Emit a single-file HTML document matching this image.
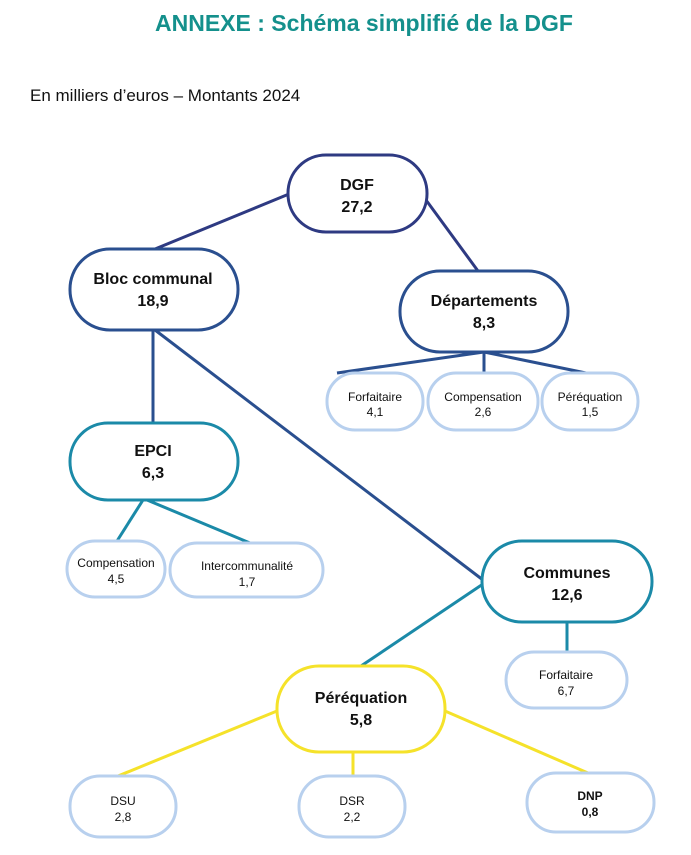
<!DOCTYPE html>
<html><head><meta charset="utf-8"><style>
html,body{margin:0;padding:0;background:#fff;}
svg{display:block;}
text{font-family:"Liberation Sans",sans-serif;text-anchor:middle;fill:#111;}
.b{font-weight:bold;font-size:16px;}
.s{font-size:12px;}
</style></head><body>
<svg width="691" height="855" viewBox="0 0 691 855" xmlns="http://www.w3.org/2000/svg">
<text x="364" y="31" style="font-weight:bold;font-size:23px;fill:#14908c">ANNEXE : Schéma simplifié de la DGF</text>
<text x="30" y="101" style="text-anchor:start;font-size:17px">En milliers d’euros – Montants 2024</text>

<g stroke-width="3" fill="none">
<line x1="289" y1="194" x2="155" y2="249" stroke="#2e3a82"/>
<line x1="426" y1="200" x2="478" y2="271" stroke="#2e3a82"/>
<line x1="153" y1="330" x2="153" y2="423" stroke="#2a4f8f"/>
<line x1="155" y1="330" x2="483" y2="580" stroke="#2a4f8f"/>
<line x1="484" y1="352" x2="337" y2="373" stroke="#2a4f8f"/>
<line x1="484" y1="352" x2="484" y2="373" stroke="#2a4f8f"/>
<line x1="484" y1="352" x2="586" y2="373" stroke="#2a4f8f"/>
<line x1="143" y1="500" x2="117" y2="541" stroke="#1b8aa8"/>
<line x1="147" y1="500" x2="250" y2="543" stroke="#1b8aa8"/>
<line x1="483" y1="584" x2="361" y2="666" stroke="#1b8aa8"/>
<line x1="567" y1="622" x2="567" y2="652" stroke="#1b8aa8"/>
<line x1="277" y1="711" x2="118" y2="776" stroke="#f5e22a"/>
<line x1="353" y1="752" x2="353" y2="776" stroke="#f5e22a"/>
<line x1="445" y1="711" x2="588" y2="773" stroke="#f5e22a"/>
</g>

<g fill="#fff" stroke-width="3">
<rect x="288" y="155" width="139" height="77" rx="38" stroke="#2e3a82"/>
<rect x="70" y="249" width="168" height="81" rx="40" stroke="#2a4f8f"/>
<rect x="400" y="271" width="168" height="81" rx="40" stroke="#2a4f8f"/>
<rect x="70" y="423" width="168" height="77" rx="38" stroke="#1b8aa8"/>
<rect x="482" y="541" width="170" height="81" rx="40" stroke="#1b8aa8"/>
<rect x="277" y="666" width="168" height="86" rx="42" stroke="#f5e22a"/>
</g>
<g fill="#fff" stroke="#b8d0ee" stroke-width="3">
<rect x="327" y="373" width="96" height="57" rx="28"/>
<rect x="428" y="373" width="110" height="57" rx="28"/>
<rect x="542" y="373" width="96" height="57" rx="28"/>
<rect x="67" y="541" width="98" height="56" rx="28"/>
<rect x="170" y="543" width="153" height="54" rx="27"/>
<rect x="506" y="652" width="121" height="56" rx="28"/>
<rect x="70" y="776" width="106" height="61" rx="30"/>
<rect x="299" y="776" width="106" height="61" rx="30"/>
<rect x="527" y="773" width="127" height="59" rx="29"/>
</g>

<text class="b" x="357" y="190">DGF</text><text class="b" x="357" y="212">27,2</text>
<text class="b" x="153" y="284">Bloc communal</text><text class="b" x="153" y="306">18,9</text>
<text class="b" x="484" y="306">Départements</text><text class="b" x="484" y="328">8,3</text>
<text class="b" x="153" y="456">EPCI</text><text class="b" x="153" y="478">6,3</text>
<text class="b" x="567" y="578">Communes</text><text class="b" x="567" y="600">12,6</text>
<text class="b" x="361" y="703">Péréquation</text><text class="b" x="361" y="725">5,8</text>

<text class="s" x="375" y="401">Forfaitaire</text><text class="s" x="375" y="416">4,1</text>
<text class="s" x="483" y="401">Compensation</text><text class="s" x="483" y="416">2,6</text>
<text class="s" x="590" y="401">Péréquation</text><text class="s" x="590" y="416">1,5</text>
<text class="s" x="116" y="567">Compensation</text><text class="s" x="116" y="583">4,5</text>
<text class="s" x="247" y="570">Intercommunalité</text><text class="s" x="247" y="586">1,7</text>
<text class="s" x="566" y="679">Forfaitaire</text><text class="s" x="566" y="695">6,7</text>
<text class="s" x="123" y="805">DSU</text><text class="s" x="123" y="821">2,8</text>
<text class="s" x="352" y="805">DSR</text><text class="s" x="352" y="821">2,2</text>
<text class="s" x="590" y="800" style="font-weight:bold">DNP</text><text class="s" x="590" y="816" style="font-weight:bold">0,8</text>
</svg>
</body></html>
